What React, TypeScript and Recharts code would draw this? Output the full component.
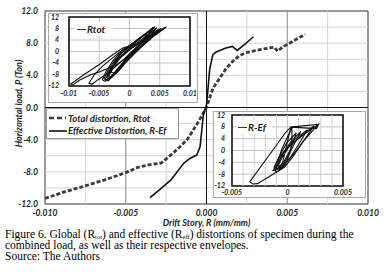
import { LineChart, Line, XAxis, YAxis, ReferenceLine, ReferenceArea, CartesianGrid } from 'recharts'

type Pt = [number, number]

// main chart envelopes: [drift, load]
const totalEnvelope: Pt[] = [
  [-0.01, -11.3], [-0.0088, -10.5], [-0.0076, -9.8], [-0.0063, -9.0], [-0.005, -8.1],
  [-0.0042, -7.4], [-0.0035, -7.1], [-0.0028, -6.9], [-0.0022, -5.9], [-0.0017, -5.0],
  [-0.0012, -4.0], [-0.0006, -2.1], [0, 0], [0.0004, 2.4], [0.0008, 3.6],
  [0.0012, 4.8], [0.0016, 5.7], [0.002, 6.4], [0.0024, 6.8], [0.0033, 7.2],
  [0.0042, 7.5], [0.0044, 7.0], [0.0047, 7.5], [0.0054, 8.3], [0.0061, 9.1],
]
const effectiveEnvelope: Pt[] = [
  [-0.0035, -11.2], [-0.0029, -10.2], [-0.0022, -9.0], [-0.0014, -6.9], [-0.001, -6.3],
  [-0.0006, -5.9], [-0.0004, -4.9], [-0.0003, -3.0], [-0.0002, -1.0], [0, 0.3],
  [0.0001, 2.5], [0.0002, 4.8], [0.0004, 6.6], [0.0006, 6.9], [0.0012, 7.4],
  [0.0016, 7.6], [0.0019, 7.1], [0.0024, 7.9], [0.0029, 8.8],
]

// inset 1: total distortion cycles
const rtotLoopA: Pt[] = [
  [0.0061, 8.6], [0.0045, 6.0], [0.0022, 3.2], [-0.0011, 1.2], [-0.003, -1.5], [-0.005, -4.5],
  [-0.0075, -8.0], [-0.0097, -11.3], [-0.0094, -11.7], [-0.0083, -10.0], [-0.0065, -8.2],
  [-0.005, -7.1], [-0.0035, -5.8], [-0.0022, -4.7], [-0.0008, -2.6], [0.0008, 0], [0.0025, 3.0],
  [0.0042, 6.0], [0.0061, 8.6],
]
const rtotLoopB: Pt[] = [
  [0.0039, 8.5], [0.0028, 6.4], [0.0012, 3.6], [-0.001, 0.8], [-0.0028, -2.2], [-0.0045, -5.2],
  [-0.0058, -8.0], [-0.0067, -11.0], [-0.0062, -11.4], [-0.0052, -9.8], [-0.0038, -7.8],
  [-0.0024, -5.4], [-0.001, -2.8], [0.0004, 0], [0.0018, 2.8], [0.003, 5.6], [0.0039, 8.5],
]
const rtotLoopC: Pt[] = [
  [0.0045, 8.2], [0.0032, 6.0], [0.0012, 3.0], [-0.001, 0.2], [-0.0024, -3.0], [-0.0034, -6.0],
  [-0.0042, -9.4], [-0.0038, -10.0], [-0.0027, -8.0], [-0.0015, -5.0], [-0.0002, -2.0],
  [0.0008, 0.4], [0.0024, 3.4], [0.0037, 6.2], [0.0045, 8.2],
]
const rtotLoopD: Pt[] = [
  [0.0052, 8.0], [0.004, 6.2], [0.002, 3.4], [-0.0002, 0.6], [-0.0018, -2.6], [-0.003, -5.8],
  [-0.0038, -9.0], [-0.0034, -9.6], [-0.0022, -7.4], [-0.001, -4.4], [0.0004, -1.4],
  [0.0014, 0.8], [0.003, 3.8], [0.0044, 6.4], [0.0052, 8.0],
]
const rtotLoopE: Pt[] = [
  [0.0042, 8.6], [0.0028, 6.4], [0.0008, 3.2], [-0.0014, 0], [-0.0028, -3.4], [-0.0038, -6.6],
  [-0.0045, -9.8], [-0.004, -10.4], [-0.003, -8.6], [-0.0018, -5.6], [-0.0006, -2.6],
  [0.0006, 0], [0.002, 3.0], [0.0034, 6.2], [0.0042, 8.6],
]
const rtotLoopF: Pt[] = [
  [0.0058, 8.4], [0.0044, 6.4], [0.0024, 3.8], [0.0004, 1.2], [-0.0014, -2.0], [-0.0026, -5.0],
  [-0.0034, -8.4], [-0.003, -9.0], [-0.0018, -6.8], [-0.0006, -3.8], [0.0008, -0.8],
  [0.002, 1.6], [0.0036, 4.6], [0.0048, 6.8], [0.0058, 8.4],
]
const rtotLoopG: Pt[] = [
  [0.0036, 7.6], [0.0024, 5.6], [0.0006, 2.6], [-0.0012, -0.4], [-0.0024, -3.6], [-0.0032, -6.8],
  [-0.0036, -8.8], [-0.003, -9.0], [-0.002, -6.6], [-0.0008, -3.4], [0.0004, -0.6],
  [0.0016, 2.2], [0.0028, 5.0], [0.0036, 7.6],
]
const rtotLoopH: Pt[] = [
  [0.0048, 7.8], [0.0036, 6.0], [0.0016, 3.2], [-0.0004, 0.4], [-0.002, -2.8], [-0.0032, -6.2],
  [-0.004, -9.6], [-0.0035, -10.2], [-0.0024, -7.8], [-0.0012, -4.8], [0.0002, -1.8],
  [0.0012, 0.4], [0.0028, 3.6], [0.004, 6.0], [0.0048, 7.8],
]
const rtotLoopI: Pt[] = [
  [0.003, 6.8], [0.0016, 4.6], [0, 2.0], [-0.0016, -1.2], [-0.0026, -4.4], [-0.003, -7.2],
  [-0.0024, -7.6], [-0.0014, -5.2], [-0.0002, -2.0], [0.001, 0.8], [0.0022, 3.8], [0.003, 6.8],
]

// inset 2: effective distortion cycles
const refLoopA: Pt[] = [
  [0.0028, 8.9], [0.0026, 7.4], [0.0003, 7.9], [-0.0002, 6.0], [-0.0009, 2.3], [-0.0021, -3.9],
  [-0.003, -8.5], [-0.0034, -10.6], [-0.0031, -11.3], [-0.0027, -11.2], [-0.0012, -7.8],
  [-0.00025, -5.6], [0.0005, -2.0], [0.0015, 3.5], [0.0028, 8.9],
]
const refLoopB: Pt[] = [
  [0.0024, 8.4], [0.0012, 4.8], [0, 1.0], [-0.0008, -2.6], [-0.0012, -6.0], [-0.001, -7.4],
  [-0.0004, -5.4], [0.0006, -1.0], [0.0016, 4.0], [0.0024, 8.4],
]
const refLoopC: Pt[] = [
  [0.0004, 7.6], [0, 4.6], [-0.0005, 0.6], [-0.0009, -4.0], [-0.0007, -6.6], [-0.0002, -4.8],
  [0.0002, -1.0], [0.0004, 3.0], [0.0004, 7.6],
]
const refLoopD: Pt[] = [
  [0.0018, 7.0], [0.0006, 3.6], [-0.0004, -0.8], [-0.001, -5.2], [-0.0013, -6.8], [-0.0006, -6.0],
  [0.0002, -2.6], [0.001, 2.0], [0.0018, 7.0],
]
const refLoopE: Pt[] = [
  [0.0008, 6.0], [-0.0001, 2.4], [-0.0007, -1.8], [-0.0012, -5.6], [-0.0009, -6.2], [-0.0003, -3.6],
  [0.0003, 0.6], [0.0008, 6.0],
]
const refLoopF: Pt[] = [
  [0.0003, 7.9], [0.0028, 8.9], [0.0014, 5.2], [0.0002, 1.6], [-0.0006, -3.0], [-0.0011, -6.6],
  [-0.0005, -5.0], [0.0003, 7.9],
]
const refLoopG: Pt[] = [
  [0.0012, 6.4], [0.0003, 3.0], [-0.0004, -1.0], [-0.0008, -5.0], [-0.0006, -6.0], [-0.0001, -3.0],
  [0.0005, 1.4], [0.0012, 6.4],
]

const mainXTicks = [-0.01, -0.005, 0, 0.005, 0.01]
const mainYTicks = [-12, -8, -4, 0, 4, 8, 12]
const mainMinorX = [-0.0075, -0.0025, 0.0025, 0.0075]
const mainMajorX = [-0.005, 0.005]
const mainGridY = [-10, -8, -6, -4, -2, 2, 4, 6, 8, 10]
const inset1XTicks = [-0.01, -0.005, 0, 0.005, 0.01]
const inset2XTicks = [-0.005, 0, 0.005]
const inset2GridX = [-0.004, -0.003, -0.002, -0.001, 0.001, 0.002, 0.003, 0.004]
const insetYTicks = [-12, -8, -4, 0, 4, 8, 12]

const toRows = (pts: Pt[]) => pts.map(([x, y]) => ({ x, y }))

const font = 'Lato, "Open Sans", sans-serif'
const tickStyle = { fill: '#222', fontSize: 8.5, fontWeight: 700, fontStyle: 'italic' as const, fontFamily: font }
const smallTick = { fill: '#222', fontSize: 7, fontWeight: 700, fontStyle: 'italic' as const, fontFamily: font }

const fmtInset1 = (v: number) => (v === 0 ? '0' : String(v))

function InsetLegend({ label, left, top, width }: { label: string; left: number; top: number; width: number }) {
  return (
    <div
      style={{
        position: 'absolute', left, top, width, height: 14, background: '#fff',
        display: 'flex', alignItems: 'center', fontFamily: font, fontWeight: 700,
        fontStyle: 'italic', fontSize: 10, color: '#222',
      }}
    >
      <div style={{ width: 9, height: 0, borderTop: '1.2px solid #333', marginLeft: 2, marginRight: 1 }} />
      {label}
    </div>
  )
}

const sub = { fontSize: 6.5, verticalAlign: '-1px', lineHeight: '6px' }

export default function App() {
  const loops1 = [rtotLoopA, rtotLoopB, rtotLoopC, rtotLoopD, rtotLoopE, rtotLoopF, rtotLoopG, rtotLoopH, rtotLoopI]
  const loops2 = [refLoopA, refLoopB, refLoopC, refLoopD, refLoopE, refLoopF, refLoopG]

  return (
    <div style={{ position: 'absolute', left: 0, top: 0, width: 384, height: 279, background: '#fff' }}>
      <LineChart width={384} height={228} margin={{ top: 11, right: 16, bottom: 0, left: 0 }}>
        {mainGridY.map((v) => (
          <ReferenceLine key={'gy' + v} y={v} stroke="#d4d4d4" strokeWidth={1} />
        ))}
        {mainMinorX.map((v) => (
          <ReferenceLine key={'gx' + v} x={v} stroke="#d4d4d4" strokeWidth={1} />
        ))}
        {mainMajorX.map((v) => (
          <ReferenceLine key={'mx' + v} x={v} stroke="#8a8a8a" strokeWidth={1} />
        ))}
        <ReferenceLine x={0} stroke="#111" strokeWidth={1} />
        <ReferenceLine y={0} stroke="#111" strokeWidth={1} />
        <ReferenceArea x1={-0.01} x2={0.01} y1={-12} y2={12} fill="none" stroke="#333" strokeWidth={1} />
        <XAxis
          type="number"
          dataKey="x"
          domain={[-0.01, 0.01]}
          ticks={mainXTicks}
          interval={0}
          tickFormatter={(v: number) => v.toFixed(3)}
          tick={tickStyle}
          tickLine={false}
          axisLine={false}
          tickSize={4}
          height={24}
          allowDataOverflow
          label={{ value: 'Drift Story, R (mm/mm)', position: 'insideBottom', offset: 2, style: { ...tickStyle, fontSize: 9 } }}
        />
        <YAxis
          type="number"
          dataKey="y"
          domain={[-12, 12]}
          ticks={mainYTicks}
          interval={0}
          tickFormatter={(v: number) => v.toFixed(1)}
          tick={tickStyle}
          tickLine={false}
          axisLine={false}
          tickSize={5}
          width={45}
          allowDataOverflow
          label={{ value: 'Horizontal load, P  (Ton)', angle: -90, position: 'center', dx: -4, dy: -4, style: { ...tickStyle, fontSize: 9 } }}
        />
        <Line
          data={toRows(totalEnvelope)}
          dataKey="y"
          type="linear"
          stroke="#3a3a3a"
          strokeWidth={2.8}
          strokeDasharray="4 2"
          dot={false}
          activeDot={false}
          isAnimationActive={false}
        />
        <Line
          data={toRows(effectiveEnvelope)}
          dataKey="y"
          type="linear"
          stroke="#111"
          strokeWidth={1.6}
          dot={false}
          activeDot={false}
          isAnimationActive={false}
        />
      </LineChart>

      {/* main legend */}
      <div
        style={{
          position: 'absolute', left: 46, top: 108, width: 133, height: 31, boxSizing: 'border-box',
          border: '1px solid #999', background: '#fff', fontFamily: font, fontWeight: 700,
          fontStyle: 'italic', fontSize: 9.5, color: '#222', paddingTop: 3,
        }}
      >
        <div style={{ display: 'flex', alignItems: 'center', height: 12 }}>
          <svg width={20} height={4} style={{ marginLeft: 1 }}>
            <line x1={1} y1={2} x2={18} y2={2} stroke="#3a3a3a" strokeWidth={2.4} strokeDasharray="5 3" />
          </svg>
          <span>Total distortion, Rtot</span>
        </div>
        <div style={{ display: 'flex', alignItems: 'center', height: 13 }}>
          <svg width={20} height={4} style={{ marginLeft: 1 }}>
            <line x1={1} y1={2} x2={19} y2={2} stroke="#111" strokeWidth={1.6} />
          </svg>
          <span>Effective Distortion, R-Ef</span>
        </div>
      </div>

      {/* inset 1: Rtot */}
      <div
        style={{
          position: 'absolute', left: 48, top: 13, width: 150, height: 90, boxSizing: 'border-box',
          border: '1px solid #aaa', background: '#fff',
        }}
      >
        <div style={{ position: 'absolute', left: -1, top: -1 }}>
          <LineChart width={150} height={90} margin={{ top: 4, right: 8, bottom: 0, left: 0 }}>
            <CartesianGrid stroke="#c4c4c4" />
            <XAxis
              type="number"
              dataKey="x"
              domain={[-0.01, 0.01]}
              ticks={inset1XTicks}
              interval={0}
              tickFormatter={fmtInset1}
              tick={smallTick}
              tickLine={false}
              axisLine={false}
              tickSize={3}
              height={17}
              allowDataOverflow
            />
            <YAxis
              type="number"
              dataKey="y"
              domain={[-12, 12]}
              ticks={insetYTicks}
              interval={0}
              tick={smallTick}
              tickLine={false}
              axisLine={false}
              tickSize={8}
              width={21}
              allowDataOverflow
            />
            <ReferenceArea x1={-0.01} x2={0.01} y1={-12} y2={12} fill="none" stroke="#111" strokeWidth={1.6} />
            {loops1.map((loop, i) => (
              <Line
                key={'r1' + i}
                data={toRows(loop)}
                dataKey="y"
                type="linear"
                stroke="#111"
                strokeWidth={1.1}
                dot={false}
                activeDot={false}
                isAnimationActive={false}
              />
            ))}
          </LineChart>
        </div>
        <InsetLegend label="Rtot" left={26} top={8} width={38} />
      </div>

      {/* inset 2: R-Ef */}
      <div
        style={{
          position: 'absolute', left: 213, top: 111, width: 153, height: 87, boxSizing: 'border-box',
          border: '1px solid #aaa', background: '#fff',
        }}
      >
        <div style={{ position: 'absolute', left: -1, top: -1 }}>
          <LineChart width={153} height={87} margin={{ top: 4, right: 23, bottom: 0, left: 0 }}>
            <CartesianGrid stroke="#c4c4c4" vertical={false} />
            {inset2GridX.map((v) => (
              <ReferenceLine key={'i2' + v} x={v} stroke="#d0d0d0" strokeWidth={1} />
            ))}
            <ReferenceLine x={0} stroke="#c4c4c4" strokeWidth={1} />
            <XAxis
              type="number"
              dataKey="x"
              domain={[-0.005, 0.005]}
              ticks={inset2XTicks}
              interval={0}
              tickFormatter={(v: number) => (v === 0 ? '0' : v.toFixed(3))}
              tick={smallTick}
              tickLine={false}
              axisLine={false}
              tickSize={2}
              height={12}
              allowDataOverflow
            />
            <YAxis
              type="number"
              dataKey="y"
              domain={[-12, 12]}
              ticks={insetYTicks}
              interval={0}
              tick={smallTick}
              tickLine={false}
              axisLine={false}
              tickSize={5}
              width={19}
              allowDataOverflow
            />
            <ReferenceArea x1={-0.005} x2={0.005} y1={-12} y2={12} fill="none" stroke="#111" strokeWidth={1.6} />
            {loops2.map((loop, i) => (
              <Line
                key={'r2' + i}
                data={toRows(loop)}
                dataKey="y"
                type="linear"
                stroke="#111"
                strokeWidth={1.1}
                dot={false}
                activeDot={false}
                isAnimationActive={false}
              />
            ))}
          </LineChart>
        </div>
        <InsetLegend label="R-Ef" left={22} top={8} width={36} />
      </div>

      {/* caption */}
      <div
        style={{
          position: 'absolute', left: 5, top: 229, width: 380, fontFamily: '"Liberation Serif", "Times New Roman", serif',
          fontSize: 11.5, lineHeight: '11px', color: '#000', whiteSpace: 'nowrap',
        }}
      >
        <div>
          Figure 6. Global (R<span style={sub}>tot</span>) and effective (R<span style={sub}>eff</span>) distortions of specimen during the
        </div>
        <div>combined load, as well as their respective envelopes.</div>
        <div>Source: The Authors</div>
      </div>
    </div>
  )
}
